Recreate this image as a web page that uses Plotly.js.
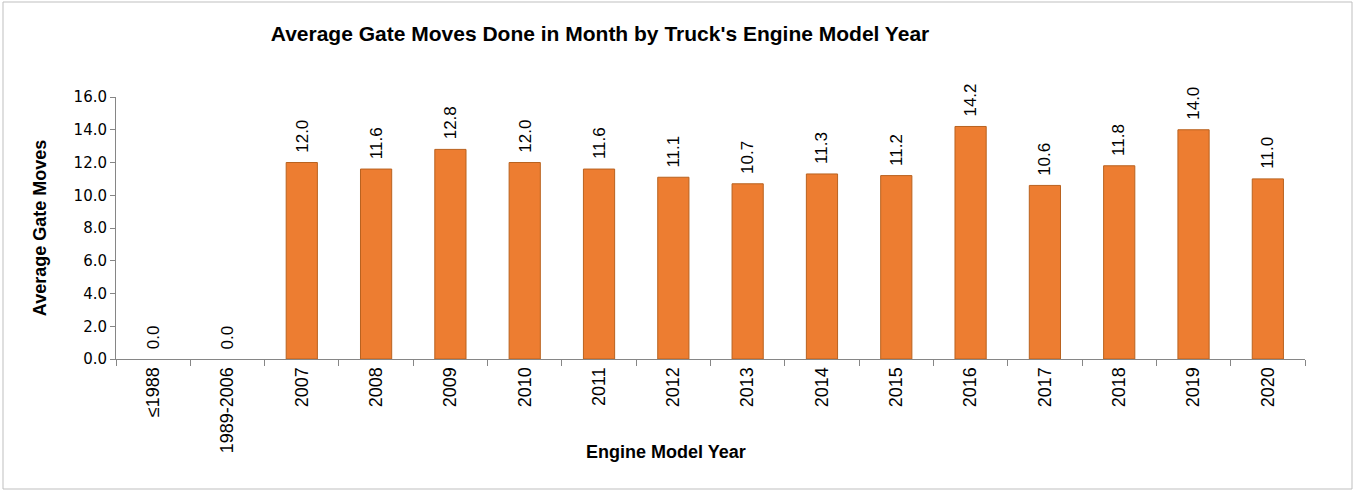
<!DOCTYPE html>
<html><head><meta charset="utf-8">
<script src="https://cdn.plot.ly/plotly-3.0.1.min.js"></script>
<style>html,body{margin:0;padding:0;background:#fff}#c{width:1356px;height:491px}</style>
</head><body><div id="c"></div>
<script>
const categories = ["≤1988","1989-2006","2007","2008","2009","2010","2011","2012","2013","2014","2015","2016","2017","2018","2019","2020"];
const avgGateMoves = [0.0,0.0,12.0,11.6,12.8,12.0,11.6,11.1,10.7,11.3,11.2,14.2,10.6,11.8,14.0,11.0];
const yTickVals = [0,2,4,6,8,10,12,14,16];
const yTickText = yTickVals.map(v => v.toFixed(1));

const FONT = 'Liberation Sans, Arial, sans-serif';

const trace = {
  type: 'bar',
  x: categories,
  y: avgGateMoves,
  marker: {color: '#ED7D31', line: {color: '#B9621F', width: avgGateMoves.map(v => v === 0 ? 0 : 1)}},
  hoverinfo: 'x+y'
};

// category axis: annotation x given as the category's index
const labelAnnotations = categories.map((c, i) => ({
  x: i, y: avgGateMoves[i], xref: 'x', yref: 'y',
  text: avgGateMoves[i].toFixed(1),
  showarrow: false, textangle: -90,
  xanchor: 'center', yanchor: 'bottom', yshift: 8,
  font: {family: FONT, size: 17, color: '#000'}
}));

const layout = {
  width: 1356, height: 491,
  margin: {l: 116, r: 51, t: 97, b: 132},
  paper_bgcolor: '#fff', plot_bgcolor: '#fff',
  showlegend: false,
  bargap: 0.58,
  title: {text: "Average Gate Moves Done in Month by Truck's Engine Model Year",
    font: {family: FONT, size: 21, color: '#000', weight: 'bold'},
    x: 600/1356, xanchor: 'center', y: 1 - 34/491, yanchor: 'middle'},
  xaxis: {
    type: 'category',
    range: [-0.5, categories.length - 0.5],
    tickangle: -90,
    tickson: 'boundaries',
    ticks: 'outside', ticklen: 6, tickcolor: '#868686', tickwidth: 1,
    showline: true, linecolor: '#868686', linewidth: 1,
    showgrid: false, zeroline: false,
    tickfont: {family: FONT, size: 18, color: '#000'}
  },
  yaxis: {
    range: [0, 16],
    tickvals: yTickVals, ticktext: yTickText,
    ticks: 'outside', ticklen: 5, tickcolor: '#868686',
    showline: true, linecolor: '#868686', linewidth: 1,
    showgrid: false, zeroline: false,
    tickfont: {family: 'DejaVu Sans, Verdana, sans-serif', size: 15, color: '#000'},
    title: {text: 'Average Gate Moves', standoff: 22,
      font: {family: FONT, size: 18, color: '#000', weight: 'bold'}}
  },
  annotations: labelAnnotations.concat([{
    xref: 'paper', yref: 'paper', x: (666-116)/1189, y: (359-452)/262,
    xanchor: 'center', yanchor: 'middle', showarrow: false,
    text: 'Engine Model Year',
    font: {family: FONT, size: 18, color: '#000', weight: 'bold'}
  }]),
  shapes: [{type: 'rect', xref: 'paper', yref: 'paper',
    x0: (3-116)/1189, x1: (1352-116)/1189, y0: (359-489)/262, y1: (359-2)/262,
    line: {color: '#BFBFBF', width: 1}, layer: 'below'}]
};

Plotly.newPlot('c', [trace], layout, {displayModeBar: false, staticPlot: true});
</script></body></html>
